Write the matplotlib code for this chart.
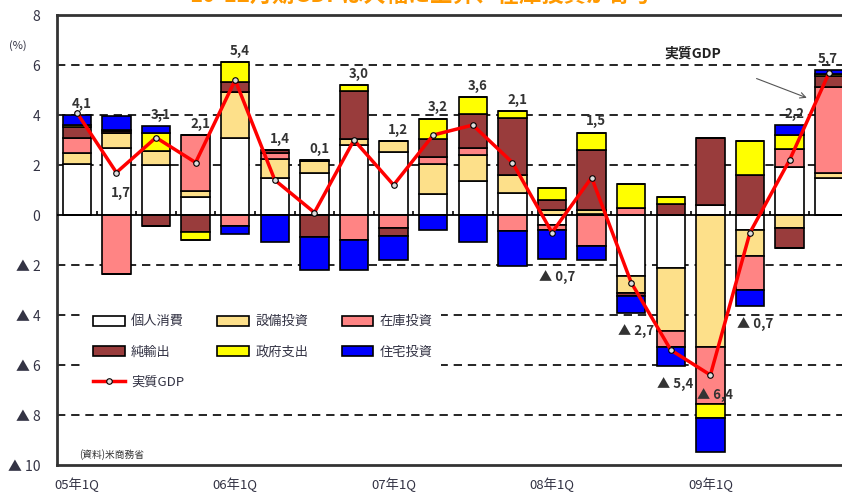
import numpy as np
import matplotlib.pyplot as plt

plt.rcParams['font.family'] = ['Noto Sans CJK JP', 'DejaVu Sans']

# ---- data (寄与度, %) ----
quarters = ['05年1Q', '05年2Q', '05年3Q', '05年4Q',
            '06年1Q', '06年2Q', '06年3Q', '06年4Q',
            '07年1Q', '07年2Q', '07年3Q', '07年4Q',
            '08年1Q', '08年2Q', '08年3Q', '08年4Q',
            '09年1Q', '09年2Q', '09年3Q', '09年4Q']

kojin = [2.05, 2.7, 2.0, 0.73, 3.07, 1.47, 1.69, 2.8, 2.53, 0.83,
         1.37, 0.89, -0.4, 0.05, -2.44, -2.13, 0.4, -0.6, 1.93, 1.47]
setsubi = [0.43, 0.57, 0.56, 0.24, 1.87, 0.77, 0.47, 0.24, 0.44, 1.2,
           1.03, 0.71, 0.2, 0.15, -0.69, -2.5, -5.27, -1.04, -0.53, 0.2]
zaiko = [0.6, -2.36, 0.0, 2.23, -0.43, 0.23, 0.0, -1.0, -0.53, 0.3,
         0.27, -0.63, -0.2, -1.24, 0.27, -0.64, -2.3, -1.36, 0.71, 3.47]
junyushutsu = [0.43, 0.1, -0.43, -0.69, 0.37, 0.13, -0.87, 1.93, -0.3, 0.73,
               1.36, 2.27, 0.4, 2.4, -0.1, 0.43, 2.67, 1.6, -0.78, 0.43]
seifu = [0.1, 0.05, 0.71, -0.31, 0.8, 0.0, 0.05, 0.23, 0.0, 0.8,
         0.7, 0.29, 0.5, 0.7, 0.96, 0.3, -0.53, 1.37, 0.56, 0.07]
jutaku = [0.4, 0.55, 0.3, 0.0, -0.33, -1.07, -1.33, -1.2, -0.97, -0.6,
          -1.07, -1.41, -1.17, -0.56, -0.7, -0.77, -1.37, -0.64, 0.4, 0.15]
gdp = [4.1, 1.7, 3.1, 2.1, 5.4, 1.4, 0.1, 3.0, 1.2, 3.2,
       3.6, 2.1, -0.7, 1.5, -2.7, -5.4, -6.4, -0.7, 2.2, 5.7]

series = [
    ('個人消費', kojin, '#FFFFFF'),
    ('設備投資', setsubi, '#FDE08A'),
    ('在庫投資', zaiko, '#FF8484'),
    ('純輸出', junyushutsu, '#993C3C'),
    ('政府支出', seifu, '#FFFF00'),
    ('住宅投資', jutaku, '#0000FF'),
]

text_col = '#333344'

fig = plt.figure(figsize=(8.42, 4.95), dpi=100)
ax = fig.add_axes([0.0677, 0.0606, 0.9406, 0.909])

x = np.arange(len(quarters))
pos_base = np.zeros(len(x))
neg_base = np.zeros(len(x))
handles = {}
for name, vals, col in series:
    v = np.array(vals)
    pos = np.where(v > 0, v, 0)
    neg = np.where(v < 0, v, 0)
    h = ax.bar(x, pos, 0.72, bottom=pos_base, color=col, edgecolor='black',
               linewidth=1.2, zorder=3, label=name)
    ax.bar(x, neg, 0.72, bottom=neg_base, color=col, edgecolor='black',
           linewidth=1.2, zorder=3)
    pos_base += pos
    neg_base += neg
    handles[name] = h

line, = ax.plot(x, gdp, color='red', lw=2.5, marker='o', markersize=4,
                markerfacecolor='#dddddd', markeredgecolor='black',
                markeredgewidth=0.8, zorder=5, label='実質GDP')

# GDP labels
below_point = {1, 16}
for i, g in enumerate(gdp):
    txt = f'{abs(g):.1f}'.replace('.', ',')
    if g < 0:
        txt = '▲ ' + txt
    if i in below_point:
        yy = g - 0.8
    elif g >= 0:
        yy = pos_base[i] + 0.45
    else:
        yy = neg_base[i] - 0.7
    dx = 0.12 if i < len(gdp) - 1 else -0.05
    ax.text(x[i] + dx, yy, txt, ha='center', va='center', fontsize=9.5,
            color='#333333', fontweight='bold', zorder=6)

# grid / axes
for yv in [6, 4, 2, -2, -4, -6, -8]:
    ax.axhline(yv, color='black', lw=1.2, ls=(0, (5, 3.5)), zorder=1)
ax.axhline(0, color='black', lw=1.3, zorder=4)
ax.vlines(x[:-1] + 0.5, 0, 0.16, color='black', lw=1.2, zorder=4)

ax.set_xlim(-0.5, 19.5)
ax.set_ylim(-10, 8)
ax.set_yticks(range(-10, 9, 2))
ax.set_yticklabels([str(t) if t >= 0 else f'▲ {abs(t)}' for t in range(-10, 9, 2)],
                   fontsize=10, color=text_col)
ax.set_xticks(x[::4])
ax.set_xticklabels(quarters[::4], fontsize=9.5, color=text_col)
ax.tick_params(axis='both', length=0)
ax.tick_params(axis='y', pad=12)
ax.tick_params(axis='x', pad=9)
for s in ['left', 'top', 'bottom']:
    ax.spines[s].set_linewidth(2)
    ax.spines[s].set_color('#333333')
ax.spines['right'].set_visible(False)

fig.text(0.021, 0.909, '(%)', fontsize=8, color=text_col, ha='center', va='center')

# annotation
ax.text(15.55, 6.45, '実質GDP', fontsize=10, fontweight='bold', color='#222222',
        ha='center', va='center')
ax.annotate('', xy=(18.5, 4.65), xytext=(17.1, 5.5),
            arrowprops=dict(arrowstyle='->', color='#555555', lw=0.8))

ax.text(0.05, -9.6, '(資料)米商務省', fontsize=7, color='#333333', va='center')

order = ['個人消費', '純輸出', None, '設備投資', '政府支出', '在庫投資', '住宅投資']
hl = [handles[n] if n else line for n in order]
ll = [n if n else '実質GDP' for n in order]
leg = ax.legend(hl, ll, ncol=3, loc='upper left', bbox_to_anchor=(0.027, 0.365),
                fontsize=9.5, frameon=True, facecolor='white', edgecolor='none',
                framealpha=1, handlelength=2.4, handleheight=0.8,
                handletextpad=0.5, columnspacing=2.5, labelspacing=1.3,
                borderpad=0.6)
leg.set_zorder(7)
for t in leg.get_texts():
    t.set_color(text_col)

# title (cut off at the top in the original)
fig.text(0.5, 1 - 7 / 495, '10-12月期GDPは大幅に上昇、在庫投資が寄与', ha='center',
         va='bottom', fontsize=16, fontweight='bold', color='#FF9900')

fig.savefig('out.png', dpi=100)
